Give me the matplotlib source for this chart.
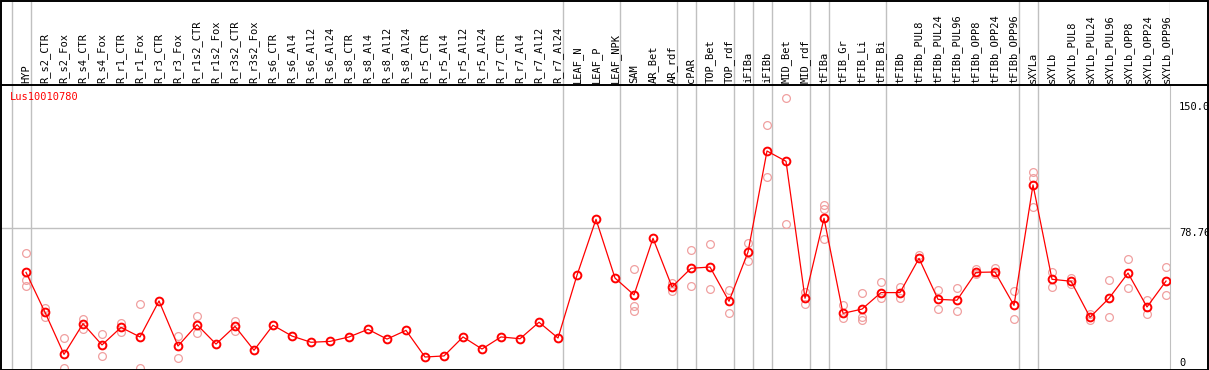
import matplotlib
matplotlib.use('Agg')
import matplotlib.pyplot as plt
from matplotlib.lines import Line2D
from matplotlib.patches import Rectangle

# sample names (header labels)
samples = ['HYP',
           'R_s2_CTR', 'R_s2_Fox', 'R_s4_CTR', 'R_s4_Fox', 'R_r1_CTR', 'R_r1_Fox',
           'R_r3_CTR', 'R_r3_Fox', 'R_r1s2_CTR', 'R_r1s2_Fox', 'R_r3s2_CTR', 'R_r3s2_Fox',
           'R_s6_CTR', 'R_s6_Al4', 'R_s6_Al12', 'R_s6_Al24', 'R_s8_CTR', 'R_s8_Al4',
           'R_s8_Al12', 'R_s8_Al24', 'R_r5_CTR', 'R_r5_Al4', 'R_r5_Al12', 'R_r5_Al24',
           'R_r7_CTR', 'R_r7_Al4', 'R_r7_Al12', 'R_r7_Al24',
           'LEAF_N', 'LEAF_P', 'LEAF_NPK',
           'SAM', 'AR_Bet', 'AR_rdf',
           'cPAR',
           'TOP_Bet', 'TOP_rdf',
           'iFIBa',
           'iFIBb',
           'MID_Bet', 'MID_rdf',
           'tFIBa',
           'tFIB_Gr', 'tFIB_Li', 'tFIB_Bi',
           'tFIBb', 'tFIBb_PUL8', 'tFIBb_PUL24', 'tFIBb_PUL96', 'tFIBb_OPP8',
           'tFIBb_OPP24', 'tFIBb_OPP96',
           'sXYLa',
           'sXYLb', 'sXYLb_PUL8', 'sXYLb_PUL24', 'sXYLb_PUL96', 'sXYLb_OPP8',
           'sXYLb_OPP24', 'sXYLb_OPP96']

# number of samples in each separated group
group_sizes = [1, 28, 3, 3, 1, 2, 1, 1, 2, 1, 3, 7, 1, 7]

# mean expression per sample
mean_values = [53.9, 31.4, 7.7, 25.0, 13.0, 22.9, 17.5, 37.8, 12.4, 24.4, 13.5, 23.5,
               10.0, 24.1, 18.0, 14.5, 15.0, 17.5, 21.8, 16.3, 21.2, 6.2, 6.8, 17.5,
               10.7, 17.5, 16.5, 25.8, 16.9,
               52.3, 83.8, 50.7, 41.2, 73.1, 45.7, 56.2, 56.9, 37.6, 65.4, 122.3,
               116.5, 39.3, 84.4, 30.8, 33.2, 42.5, 42.5, 61.8, 38.7, 38.2, 53.9,
               54.1, 35.3, 103.2, 50.0, 48.9, 28.6, 39.3, 53.5, 34.4, 49.0]

# individual replicates (only the ones that are visible apart from the mean)
replicates = [[64.6, 49.4, 46.0], [33.6, 28.9], [16.7, 0.0], [27.6, 22.0], [19.0, 6.6],
              [25.4, 20.5], [35.9, 0.0], [], [18.2, 5.5], [29.1, 19.6], [], [26.5, 20.9],
              [], [], [], [], [], [], [], [], [], [], [], [], [], [], [], [], [],
              [], [], [],
              [55.8, 35.1, 32.0], [], [47.7, 43.6],
              [66.3, 46.0],
              [69.7, 44.4], [44.0, 30.8],
              [70.5, 60.1],
              [136.8, 107.5],
              [152.0, 81.0], [42.7, 35.9],
              [91.9, 89.6, 72.5],
              [35.5, 28.0], [42.1, 28.9, 27.1], [48.5, 39.6],
              [45.8, 39.6], [63.5], [44.0, 33.4], [45.1, 32.0], [55.6, 52.8],
              [56.4, 52.8], [43.2, 27.5],
              [110.5, 107.3, 90.9],
              [54.1, 45.5], [50.9, 47.2], [30.3, 27.1], [49.5, 28.6], [61.3, 44.9],
              [38.5, 30.4], [56.9, 41.0]]

gene_name = 'Lus10010780'
y_ticks = [0, 78.76, 150.0]
y_tick_labels = ['0', '78.76', '150.0']

W, H = 1209, 370
font = 'DejaVu Sans Mono'
grey = '#c0c0c0'
red = '#ff0000'
pink = '#f0a0a0'

fig = plt.figure(figsize=(W / 100, H / 100), dpi=100)

x_left, x_right = -1.316, 60.21
y_bottom, y_top = -0.56, 159.5

ax = fig.add_axes([1 / W, 1 / H, 1169 / W, 284 / H])
ax.set_xlim(x_left, x_right)
ax.set_ylim(y_bottom, y_top)
ax.set_xticks([])
ax.set_yticks([])
for s in ax.spines.values():
    s.set_visible(False)
ax.spines['right'].set_visible(True)
ax.spines['right'].set_color(grey)

head = fig.add_axes([1 / W, 285 / H, 1169 / W, 85 / H])
head.set_xlim(x_left, x_right)
head.set_ylim(0, 1)
head.axis('off')

# group separators
bounds = [-1]
for g in group_sizes:
    bounds.append(bounds[-1] + g)
for b in bounds[:-1]:
    ax.axvline(b + 0.24, color=grey, lw=1.0, zorder=1)
    head.axvline(b + 0.24, color=grey, lw=1.0, zorder=1)
head.axvline(x_right, color=grey, lw=1.0)

# horizontal grid line at the middle tick
ax.axhline(y_ticks[1], color=grey, lw=1.0, zorder=1)

xs = list(range(len(samples)))

# replicates
rep_x, rep_y = [], []
for i, reps in enumerate(replicates):
    for v in reps:
        rep_x.append(i)
        rep_y.append(v)
ax.plot(rep_x, rep_y, linestyle='none', marker='o', ms=5.6, mfc='none',
        mec=pink, mew=0.9, zorder=2)

# means
ax.plot(xs, mean_values, color=red, lw=0.9, marker='o', ms=5.6, mfc='none',
        mec=red, mew=1.4, zorder=3)

# header labels
for i, name in enumerate(samples):
    head.text(i, 0.02, name, rotation=90, ha='center', va='bottom',
              fontsize=7.5, family=font, color='black')

# y labels on the right
for v, lab in zip(y_ticks, y_tick_labels):
    ax.text(1178 / 1169, v, lab, transform=ax.get_yaxis_transform(),
            ha='left', va='bottom' if v == 0 else 'top', fontsize=7.5,
            family=font, clip_on=False)

fig.text(10 / W, 1 - 92 / H, gene_name, color=red, fontsize=7.5, family=font,
         ha='left', va='top')

# frame and header separator
fig.add_artist(Line2D([0, 1], [1 - 85 / H, 1 - 85 / H], color='black', lw=1.4,
                      transform=fig.transFigure))
fig.add_artist(Rectangle((0.5 / W, 0.5 / H), 1 - 1.5 / W, 1 - 1.5 / H, fill=False,
                         edgecolor='black', lw=1.4, transform=fig.transFigure))

fig.savefig('out.png', dpi=100)
